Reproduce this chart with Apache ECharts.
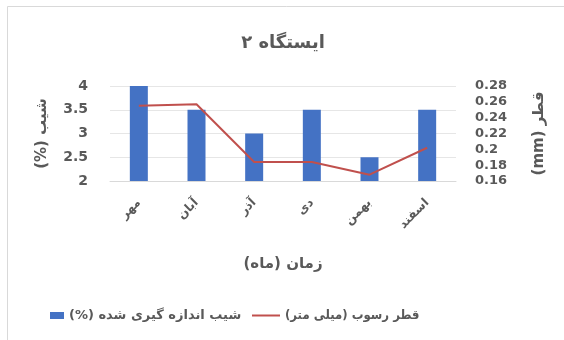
<!DOCTYPE html>
<html>
<head>
<meta charset="utf-8">
<script src="https://cdn.jsdelivr.net/npm/echarts@6/dist/echarts.min.js"></script>
<style>
  html, body { margin: 0; padding: 0; background: #ffffff; }
  #chart { width: 564px; height: 340px; }
</style>
</head>
<body>
<div id="chart" dir="rtl"></div>
<script>
// Months (Persian calendar)
const months = ['مهر', 'آبان', 'آذر', 'دی', 'بهمن', 'اسفند'];
// Measured slope (%) – bars on the left axis
const slopePct = [4, 3.5, 3, 3.5, 2.5, 3.5];
// Sediment diameter (mm) – line on the right axis
const diameterMm = [0.255, 0.257, 0.184, 0.184, 0.168, 0.202];

const slopeName = 'شیب اندازه گیری شده (%)';
const diameterName = 'قطر رسوب (میلی متر)';

const FONT = 'DejaVu Sans';
const NARROW_FONT = "'DejaVu Sans Condensed', 'DejaVu Sans'";
const TXT = '#595959';

const chart = echarts.init(document.getElementById('chart'), null, { renderer: 'canvas' });

chart.setOption({
  backgroundColor: '#ffffff',
  animation: false,
  title: {
    text: 'ایستگاه ۲',
    left: 278, top: 29, textAlign: 'center',
    textStyle: { fontFamily: FONT, fontSize: 18, fontWeight: 'bold', color: TXT }
  },
  graphic: [{
    type: 'rect', silent: true, z: -1,
    shape: { x: 7.5, y: 6.5, width: 600, height: 400 },
    style: { fill: 'none', stroke: '#d9d9d9', lineWidth: 1 }
  }],
  legend: [{
    left: 45, top: 304,
    icon: 'rect', itemWidth: 14, itemHeight: 7, itemGap: 0,
    data: [slopeName],
    textStyle: { fontFamily: FONT, fontSize: 13, fontWeight: 'bold', color: TXT }
  }, {
    left: 247, top: 304,
    icon: 'rect', itemWidth: 28, itemHeight: 2, itemGap: 0,
    data: [diameterName],
    textStyle: { fontFamily: NARROW_FONT, fontSize: 13, fontWeight: 'bold', color: TXT }
  }],
  grid: { left: 110, right: 108, top: 86, bottom: 159, containLabel: false },
  xAxis: {
    type: 'category',
    data: months,
    name: 'زمان (ماه)',
    nameLocation: 'middle',
    nameGap: 76,
    nameTextStyle: { fontFamily: FONT, fontSize: 15, fontWeight: 'bold', color: TXT },
    axisLine: { show: true, lineStyle: { color: '#d9d9d9' } },
    axisTick: { show: false },
    axisLabel: { rotate: 45, margin: 20, fontFamily: FONT, fontSize: 12, fontWeight: 'bold', color: TXT }
  },
  yAxis: [{
    type: 'value',
    min: 2, max: 4, interval: 0.5,
    name: 'شیب (%)',
    nameLocation: 'middle',
    nameRotate: 90,
    nameGap: 60,
    nameTextStyle: { fontFamily: FONT, fontSize: 15, fontWeight: 'bold', color: TXT },
    axisLine: { show: false },
    axisTick: { show: false },
    axisLabel: { margin: 22, fontFamily: FONT, fontSize: 14, fontWeight: 'bold', color: TXT },
    splitLine: { lineStyle: { color: '#e6e6e6' } }
  }, {
    type: 'value',
    min: 0.16, max: 0.28, interval: 0.02,
    name: 'قطر (mm)',
    nameLocation: 'middle',
    nameRotate: 90,
    nameGap: 76,
    nameTextStyle: { fontFamily: FONT, fontSize: 15, fontWeight: 'bold', color: TXT },
    axisLine: { show: false },
    axisTick: { show: false },
    axisLabel: { margin: 19, fontFamily: FONT, fontSize: 13, fontWeight: 'bold', color: TXT,
                 formatter: v => String(+v.toFixed(2)) },
    splitLine: { show: false }
  }],
  series: [{
    name: slopeName,
    type: 'bar',
    yAxisIndex: 0,
    data: slopePct,
    barWidth: 18,
    itemStyle: { color: '#4472c4' }
  }, {
    name: diameterName,
    type: 'line',
    yAxisIndex: 1,
    data: diameterMm,
    symbol: 'none',
    lineStyle: { color: '#c0504d', width: 2 },
    itemStyle: { color: '#c0504d' }
  }]
});
</script>
</body>
</html>
